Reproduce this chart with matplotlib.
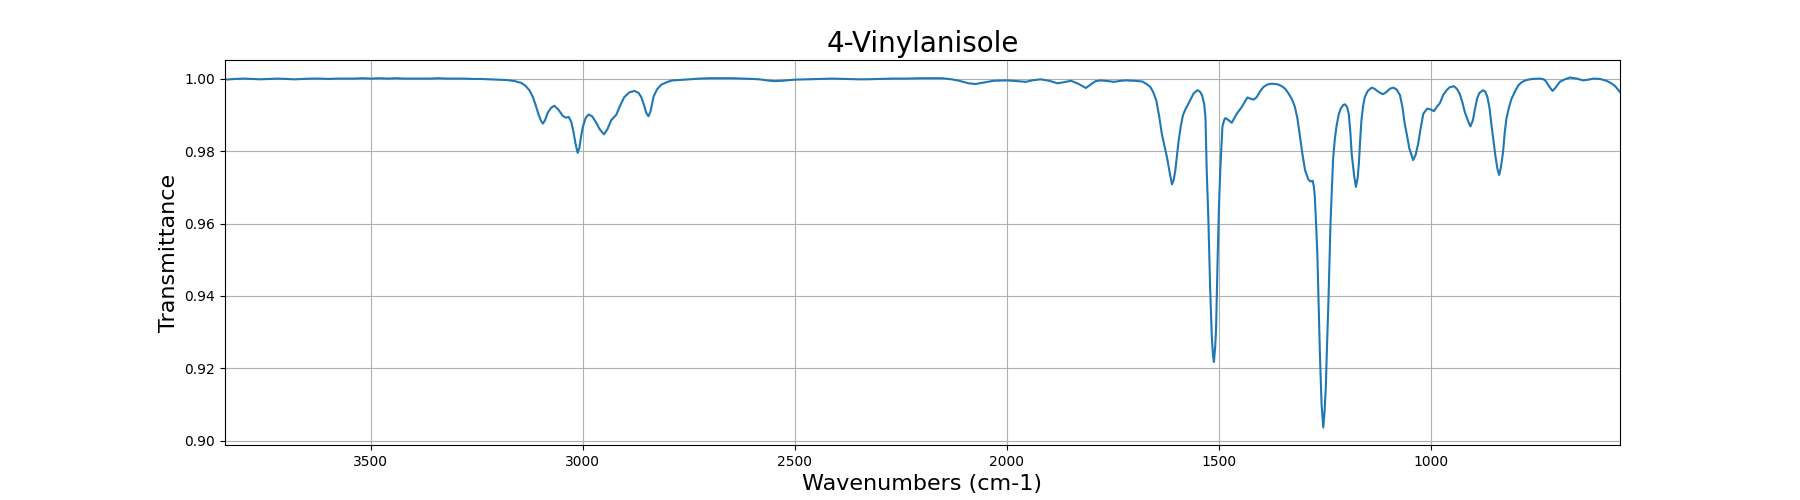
import matplotlib
matplotlib.use('Agg')
import matplotlib.pyplot as plt
import numpy as np

## 谱图数据
wavenumbers = [
    3844, 3820, 3800, 3780, 3760, 3740, 3720, 3700, 3680, 3660, 3640, 3620,
    3600, 3580, 3560, 3540, 3520, 3500, 3480, 3460, 3440, 3420, 3400, 3380,
    3360, 3340, 3320, 3300, 3280, 3260, 3240, 3220, 3200, 3180, 3160, 3145,
    3135, 3126, 3118, 3112, 3104, 3098, 3094, 3089, 3083, 3075, 3067, 3058,
    3047, 3040, 3033, 3027, 3022, 3017, 3012, 3008, 3004, 3000, 2993, 2986,
    2978, 2969, 2960, 2950, 2942, 2933, 2921, 2912, 2902, 2890, 2878, 2868,
    2862, 2855, 2850, 2845, 2840, 2833, 2825, 2815, 2800, 2788, 2760, 2725,
    2700, 2670, 2647, 2620, 2600, 2584, 2565, 2549, 2530, 2500, 2470, 2440,
    2411, 2380, 2350, 2332, 2300, 2270, 2238, 2200, 2152, 2130, 2112, 2090,
    2073, 2050, 2030, 2000, 1975, 1955, 1940, 1920, 1900, 1880, 1865, 1848,
    1830, 1813, 1800, 1790, 1778, 1760, 1747, 1730, 1719, 1700, 1680, 1670,
    1661, 1654, 1647, 1640, 1634, 1622, 1616, 1610, 1606, 1602, 1598, 1594,
    1589, 1584, 1578, 1571, 1565, 1559, 1550, 1544, 1539, 1534, 1531, 1528,
    1524, 1520, 1516, 1513, 1511, 1508, 1506, 1502, 1499, 1496, 1491, 1487,
    1484, 1476, 1469, 1457, 1445, 1432, 1424, 1417, 1410, 1402, 1394, 1384,
    1374, 1360, 1351, 1343, 1335, 1327, 1320, 1314, 1308, 1302, 1296, 1288,
    1283, 1278, 1275, 1273, 1270, 1267, 1264, 1261, 1257, 1253, 1250, 1247,
    1244, 1241, 1236, 1230, 1226, 1222, 1217, 1212, 1206, 1202, 1197, 1193,
    1189, 1186, 1180, 1176, 1172, 1169, 1166, 1163, 1159, 1155, 1148, 1139,
    1132, 1126, 1118, 1112, 1104, 1096, 1088, 1080, 1072, 1066, 1061, 1055,
    1050, 1041, 1035, 1029, 1023, 1017, 1008, 1000, 992, 985, 978, 970,
    962, 955, 945, 938, 931, 925, 919, 912, 906, 900, 895, 890,
    885, 876, 871, 866, 861, 856, 851, 847, 842, 838, 834, 829,
    825, 821, 815, 809, 800, 793, 785, 774, 760, 742, 733, 728,
    720, 712, 705, 695, 685, 671, 655, 640, 628, 616, 600, 585,
    575, 565, 558, 553,
]
transmittance = [
    0.9997, 0.9999, 1.0000, 0.9999, 0.9998, 0.9999, 1.0000, 0.9999, 0.9998, 0.9999, 1.0000, 1.0000,
    0.9999, 1.0000, 1.0000, 1.0000, 1.0001, 1.0000, 1.0001, 1.0000, 1.0001, 1.0000, 1.0000, 1.0000,
    1.0000, 1.0001, 1.0000, 1.0000, 1.0000, 0.9999, 0.9999, 0.9998, 0.9997, 0.9996, 0.9993, 0.9988,
    0.9980, 0.9968, 0.9950, 0.9930, 0.9900, 0.9882, 0.9876, 0.9885, 0.9905, 0.9919, 0.9925, 0.9915,
    0.9897, 0.9892, 0.9894, 0.9880, 0.9853, 0.9820, 0.9795, 0.9808, 0.9840, 0.9866, 0.9892, 0.9901,
    0.9896, 0.9880, 0.9860, 0.9846, 0.9860, 0.9885, 0.9900, 0.9925, 0.9949, 0.9962, 0.9966, 0.9960,
    0.9949, 0.9925, 0.9905, 0.9896, 0.9910, 0.9950, 0.9970, 0.9983, 0.9991, 0.9995, 0.9997, 1.0000,
    1.0001, 1.0001, 1.0001, 1.0000, 0.9999, 0.9998, 0.9995, 0.9993, 0.9994, 0.9997, 0.9998, 0.9999,
    1.0000, 0.9999, 0.9998, 0.9998, 0.9999, 1.0000, 1.0000, 1.0001, 1.0001, 0.9998, 0.9994, 0.9987,
    0.9985, 0.9990, 0.9994, 0.9995, 0.9993, 0.9991, 0.9995, 0.9998, 0.9994, 0.9987, 0.9990, 0.9994,
    0.9985, 0.9974, 0.9985, 0.9993, 0.9995, 0.9993, 0.9991, 0.9994, 0.9995, 0.9994, 0.9992, 0.9985,
    0.9977, 0.9962, 0.9940, 0.9895, 0.9848, 0.9784, 0.9745, 0.9708, 0.9720, 0.9747, 0.9790, 0.9830,
    0.9870, 0.9899, 0.9916, 0.9931, 0.9945, 0.9959, 0.9968, 0.9964, 0.9954, 0.9930, 0.9894, 0.9747,
    0.9609, 0.9425, 0.9287, 0.9235, 0.9218, 0.9260, 0.9306, 0.9517, 0.9650, 0.9747, 0.9867, 0.9885,
    0.9891, 0.9885, 0.9878, 0.9903, 0.9922, 0.9948, 0.9944, 0.9942, 0.9949, 0.9965, 0.9977, 0.9984,
    0.9986, 0.9984, 0.9979, 0.9972, 0.9959, 0.9943, 0.9922, 0.9890, 0.9839, 0.9790, 0.9747, 0.9721,
    0.9716, 0.9718, 0.9700, 0.9674, 0.9600, 0.9517, 0.9380, 0.9241, 0.9100, 0.9037, 0.9080, 0.9149,
    0.9270, 0.9379, 0.9600, 0.9775, 0.9830, 0.9867, 0.9899, 0.9917, 0.9927, 0.9929, 0.9922, 0.9903,
    0.9850, 0.9793, 0.9730, 0.9701, 0.9725, 0.9766, 0.9830, 0.9885, 0.9925, 0.9949, 0.9966, 0.9975,
    0.9972, 0.9966, 0.9960, 0.9957, 0.9963, 0.9972, 0.9975, 0.9970, 0.9954, 0.9920, 0.9876, 0.9840,
    0.9807, 0.9775, 0.9790, 0.9821, 0.9865, 0.9903, 0.9917, 0.9915, 0.9910, 0.9922, 0.9932, 0.9955,
    0.9968, 0.9976, 0.9979, 0.9972, 0.9958, 0.9935, 0.9907, 0.9885, 0.9868, 0.9885, 0.9917, 0.9945,
    0.9960, 0.9968, 0.9964, 0.9950, 0.9920, 0.9870, 0.9825, 0.9787, 0.9750, 0.9734, 0.9755, 0.9796,
    0.9850, 0.9889, 0.9920, 0.9944, 0.9966, 0.9981, 0.9990, 0.9996, 0.9999, 1.0000, 0.9998, 0.9993,
    0.9978, 0.9966, 0.9975, 0.9991, 0.9997, 1.0003, 1.0000, 0.9995, 0.9997, 1.0000, 0.9999, 0.9994,
    0.9988, 0.9980, 0.9970, 0.9963,
]

fig, ax = plt.subplots(figsize=(18, 5), dpi=100)
ax.plot(wavenumbers, transmittance)
ax.set_xlim(wavenumbers[0], wavenumbers[-1])
ax.grid()
ax.set_title('4-Vinylanisole', fontsize=20)
ax.set_xlabel('Wavenumbers (cm-1)', fontsize=16)
ax.set_ylabel('Transmittance', fontsize=16)
fig.savefig('out.png')
